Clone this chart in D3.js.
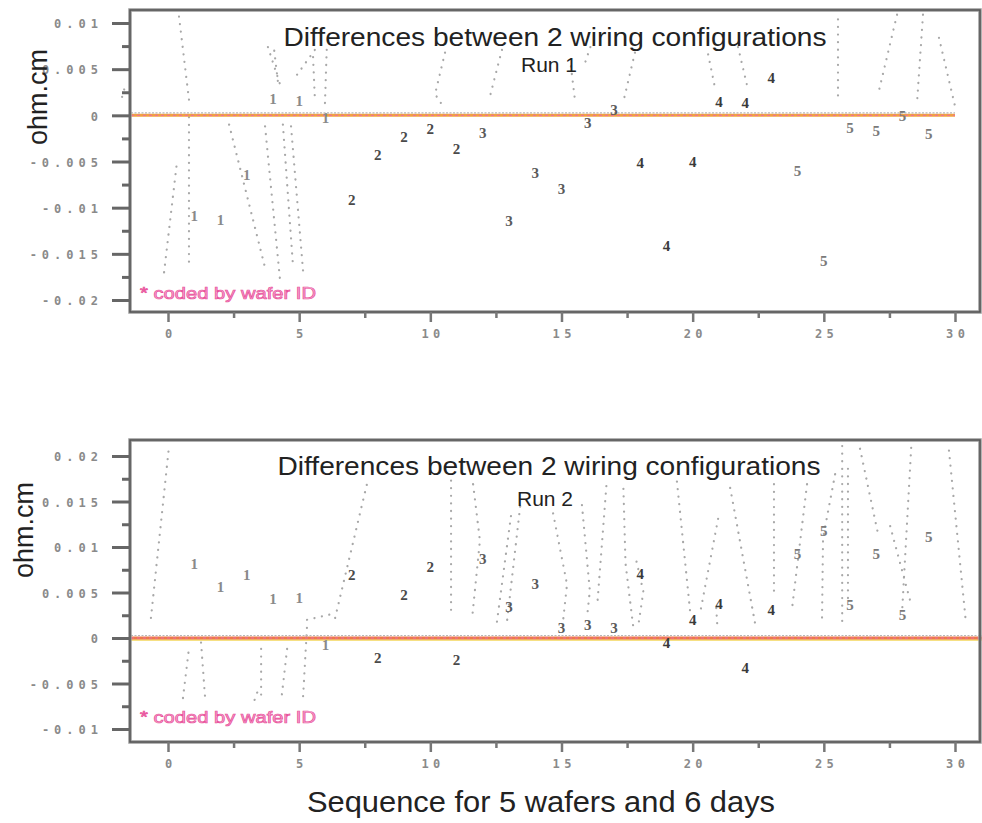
<!DOCTYPE html>
<html>
<head>
<meta charset="utf-8">
<script src="https://cdn.jsdelivr.net/npm/d3@7/dist/d3.min.js"></script>
<style>
  html, body { margin: 0; padding: 0; background: #fff; }
  svg { display: block; }
  .tick text { font-family: "DejaVu Sans Mono", monospace; font-weight: bold; fill: #8a8a8a; }
</style>
</head>
<body>
<svg id="chart" width="982" height="823"></svg>
<script>
// Sequence position of each measurement and the wafer it came from
const sequence = [1,2,3,4,5,6,7,8,9,10,11,12,13,14,15,16,17,18,19,20,21,22,23,24,25,26,27,28,29];
const waferId  = [1,1,1,1,1,1,2,2,2,2,2,3,3,3,3,3,3,4,4,4,4,4,4,5,5,5,5,5,5];

// Differences (ohm.cm) between the two wiring configurations
const run1Diff = [-0.0109,-0.0113,-0.0064,0.0018,0.0016,-0.0002,
                  -0.0091,-0.0042,-0.0023,-0.0014,-0.0036,
                  -0.0019,-0.0114,-0.0062,-0.0079,-0.0008,0.0006,
                  -0.0051,-0.0141,-0.0050,0.0015,0.0014,0.0041,
                  -0.0060,-0.0157,-0.0013,-0.0017,0.0000,-0.0020];
const run2Diff = [0.0082,0.0057,0.0070,0.0043,0.0044,-0.0007,
                  0.0070,-0.0021,0.0048,0.0079,-0.0024,
                  0.0087,0.0035,0.0060,0.0011,0.0015,0.0011,
                  0.0071,-0.0005,0.0020,0.0038,-0.0032,0.0031,
                  0.0093,0.0118,0.0037,0.0093,0.0026,0.0111];

// Dotted trace fragments, [sequence, ohm.cm] pairs
const run1Traces = [
  [[0.42,0.0107],[0.80,0.0017]],
  [[0.80,-0.0002],[0.80,-0.0165]],
  [[-0.15,-0.0170],[0.34,-0.0051]],
  [[2.33,-0.0010],[3.70,-0.0165]],
  [[3.70,-0.0012],[4.27,-0.0178]],
  [[3.81,0.0074],[4.31,0.0030]],
  [[4.05,0.0070],[4.20,0.0034]],
  [[4.38,-0.0010],[4.77,-0.0165]],
  [[4.69,-0.0012],[5.15,-0.0169]],
  [[4.92,0.0044],[5.60,0.0071]],
  [[5.53,0.0063],[5.60,0.0017]],
  [[6.05,0.0071],[5.98,0.0010]],
  [[10.56,0.0068],[10.18,0.0023],[10.48,0.0010]],
  [[12.73,0.0071],[12.24,0.0017]],
  [[15.36,0.0053],[15.52,0.0015]],
  [[16.10,0.0074],[15.90,0.0057]],
  [[17.80,0.0068],[17.35,0.0014]],
  [[20.59,0.0066],[20.85,0.0030]],
  [[21.73,0.0074],[22.11,0.0028]],
  [[25.54,0.0104],[25.54,0.0017]],
  [[27.79,0.0109],[27.07,0.0023]],
  [[28.78,0.0109],[28.56,0.0017]],
  [[29.39,0.0084],[30.00,0.0010]],
  [[-1.75,0.0020],[-1.65,0.0030]]
];
const run2Traces = [
  [[-0.65,0.0022],[0.04,0.0211]],
  [[0.57,-0.0066],[0.80,-0.0011]],
  [[1.26,-0.0005],[1.41,-0.0064]],
  [[3.55,-0.0012],[3.55,-0.0066]],
  [[3.30,-0.0068],[3.40,-0.0060]],
  [[4.54,-0.0012],[4.31,-0.0070]],
  [[5.15,-0.0064],[5.30,0.0013]],
  [[5.30,0.0020],[6.20,0.0026]],
  [[6.37,0.0022],[7.59,0.0170]],
  [[10.79,0.0173],[10.79,0.0027]],
  [[11.63,0.0169],[11.89,0.0107],[11.59,0.0021]],
  [[12.54,0.0018],[13.11,0.0142]],
  [[12.93,0.0020],[13.43,0.0146]],
  [[14.68,0.0137],[15.21,0.0059],[15.06,0.0019]],
  [[15.78,0.0146],[16.08,0.0052],[15.97,0.0022]],
  [[16.71,0.0167],[16.37,0.0039]],
  [[17.36,0.0164],[17.44,0.0082],[17.74,0.0011]],
  [[17.86,0.0084],[18.12,0.0051],[17.94,0.0016]],
  [[19.40,0.0172],[19.90,0.0030]],
  [[20.97,0.0131],[20.28,0.0027]],
  [[21.43,0.0165],[22.38,0.0016]],
  [[20.90,0.0033],[20.94,0.0013]],
  [[23.10,0.0169],[23.10,0.0046]],
  [[24.36,0.0169],[23.79,0.0033]],
  [[25.43,0.0180],[24.97,0.0110],[24.93,0.0019]],
  [[25.70,0.0211],[25.70,0.0015]],
  [[25.92,0.0186],[25.92,0.0041]],
  [[26.38,0.0208],[27.07,0.0114]],
  [[28.33,0.0209],[27.98,0.0027]],
  [[27.53,0.0123],[28.29,0.0041]],
  [[29.77,0.0206],[30.42,0.0016]]
];

// Tick values
const xTicks      = [0,5,10,15,20,25,30];
const xMinorTicks = [2.5,7.5,12.5,17.5,22.5,27.5];
const run1YTicks  = [0.01,0.005,0,-0.005,-0.01,-0.015,-0.02];
const run1YMinor  = [0.0075,0.0025,-0.0025,-0.0075,-0.0125,-0.0175];
const run2YTicks  = [0.02,0.015,0.01,0.005,0,-0.005,-0.01];
const run2YMinor  = [0.0175,0.0125,0.0075,0.0025,-0.0025,-0.0075];

const titleText  = "Differences between 2 wiring configurations";
const yLabelText = "ohm.cm";
const noteText   = "* coded by wafer ID";
const xTitleText = "Sequence for 5 wafers and 6 days";

const waferColor = {1:"#8a8a8a", 2:"#4a4a4a", 3:"#5a5a5a", 4:"#3a3a3a", 5:"#7a7a7a"};

const panels = [
  { run: "Run 1", values: run1Diff, traces: run1Traces, yTicks: run1YTicks, yMinor: run1YMinor,
    yDomain: [-0.02, 0.01], yRange: [300, 23], frame: {top: 10, bottom: 312},
    titleY: 46, runY: 72, titleX: 555, runX: 549, yLabelX: 47, yLabelY: 97, noteY: 299,
    zeroEnd: 30, band: false },
  { run: "Run 2", values: run2Diff, traces: run2Traces, yTicks: run2YTicks, yMinor: run2YMinor,
    yDomain: [-0.01, 0.02], yRange: [729, 456], frame: {top: 440, bottom: 742},
    titleY: 475, runY: 506, titleX: 549, runX: 545, yLabelX: 33, yLabelY: 530, noteY: 723,
    zeroEnd: 31.2, band: true }
];

const svg = d3.select("#chart");
const frameLeft = 130, frameRight = 980;
const x = d3.scaleLinear().domain([0, 30]).range([168, 955]);

const fmtY = v => v === 0 ? "0" : String(+v.toFixed(3));
const sans = "Liberation Sans, Arial, sans-serif";

panels.forEach(p => {
  const y = d3.scaleLinear().domain(p.yDomain).range(p.yRange);
  const g = svg.append("g");

  // Dotted traces
  const line = d3.line().x(d => x(d[0])).y(d => y(d[1]));
  g.append("g").selectAll("path").data(p.traces).join("path")
    .attr("d", line)
    .attr("fill", "none")
    .attr("stroke", "#a8a8a8")
    .attr("stroke-width", 2.2)
    .attr("stroke-linecap", "round")
    .attr("stroke-dasharray", "0.1,7.5");

  // Zero reference line
  const x0 = x.invert(frameLeft + 1);
  if (p.band) {
    g.append("line").attr("x1", x(x0)).attr("x2", x(p.zeroEnd))
      .attr("y1", y(0) + 2).attr("y2", y(0) + 2)
      .attr("stroke", "#f3d65a").attr("stroke-width", 1.6);
  }
  g.append("line").attr("x1", x(x0)).attr("x2", x(p.zeroEnd))
    .attr("y1", y(0)).attr("y2", y(0))
    .attr("stroke", p.band ? "#ec7a4a" : "#f0a044").attr("stroke-width", 3);
  g.append("line").attr("x1", x(x0)).attr("x2", x(p.zeroEnd))
    .attr("y1", y(0)).attr("y2", y(0))
    .attr("stroke", "#f06aa0").attr("stroke-width", 1)
    .attr("stroke-dasharray", "3,3");
  // row of tiny markers sitting on the zero line
  g.append("line").attr("x1", x(x0)).attr("x2", x(p.zeroEnd))
    .attr("y1", y(0) - 2.5).attr("y2", y(0) - 2.5)
    .attr("stroke", "#b8b8b8").attr("stroke-width", 1.2)
    .attr("stroke-dasharray", "2,1.5");

  // Points labelled by wafer ID
  g.append("g").selectAll("text").data(p.values).join("text")
    .attr("x", (d, i) => x(sequence[i]))
    .attr("y", d => y(d))
    .attr("dy", "0.36em")
    .attr("text-anchor", "middle")
    .attr("font-family", "Liberation Serif, serif")
    .attr("font-weight", "bold")
    .attr("font-size", 15)
    .attr("fill", (d, i) => waferColor[waferId[i]])
    .text((d, i) => waferId[i]);

  // Frame
  g.append("rect")
    .attr("x", frameLeft).attr("y", p.frame.top)
    .attr("width", frameRight - frameLeft).attr("height", p.frame.bottom - p.frame.top)
    .attr("fill", "none").attr("stroke", "#9a9a9a").attr("stroke-width", 3.5);
  g.append("rect")
    .attr("x", frameLeft).attr("y", p.frame.top)
    .attr("width", frameRight - frameLeft).attr("height", p.frame.bottom - p.frame.top)
    .attr("fill", "none").attr("stroke", "#555").attr("stroke-width", 1.5);

  // Y axis
  const yAxis = g.append("g").attr("transform", `translate(${frameLeft},0)`)
    .call(d3.axisLeft(y).tickValues(p.yTicks).tickSize(18).tickPadding(9).tickFormat(fmtY));
  const yMinorAxis = g.append("g").attr("transform", `translate(${frameLeft},0)`)
    .call(d3.axisLeft(y).tickValues(p.yMinor).tickSize(8).tickFormat(""));
  [yAxis, yMinorAxis].forEach(a => {
    a.select(".domain").remove();
    a.selectAll(".tick line").attr("stroke", "#666").attr("stroke-width", 3);
  });
  yAxis.selectAll(".tick text")
    .attr("font-size", 12).attr("letter-spacing", "5px")
    .attr("dy", "0.4em");

  // X axis
  const xAxis = g.append("g").attr("transform", `translate(0,${p.frame.bottom})`)
    .call(d3.axisBottom(x).tickValues(xTicks).tickSize(10).tickPadding(7));
  const xMinorAxis = g.append("g").attr("transform", `translate(0,${p.frame.bottom})`)
    .call(d3.axisBottom(x).tickValues(xMinorTicks).tickSize(6).tickFormat(""));
  [xAxis, xMinorAxis].forEach(a => {
    a.select(".domain").remove();
    a.selectAll(".tick line").attr("stroke", "#777").attr("stroke-width", 2.5);
  });
  xAxis.selectAll(".tick text")
    .attr("font-size", 12).attr("letter-spacing", "4.4px")
    .attr("text-anchor", "middle")
    .attr("dx", "2.2px");

  // Titles
  g.append("text").attr("x", p.titleX).attr("y", p.titleY)
    .attr("text-anchor", "middle")
    .attr("font-family", sans)
    .attr("font-size", 26).attr("fill", "#222")
    .attr("textLength", 543).attr("lengthAdjust", "spacingAndGlyphs")
    .text(titleText);
  g.append("text").attr("x", p.runX).attr("y", p.runY)
    .attr("text-anchor", "middle")
    .attr("font-family", sans)
    .attr("font-size", 21).attr("fill", "#222")
    .text(p.run);

  // Y axis label
  g.append("text")
    .attr("transform", `translate(${p.yLabelX},${p.yLabelY}) rotate(-90)`)
    .attr("text-anchor", "middle")
    .attr("font-family", sans)
    .attr("font-size", 27).attr("fill", "#222")
    .text(yLabelText);

  // Note
  g.append("text").attr("x", 140).attr("y", p.noteY)
    .attr("font-family", sans)
    .attr("font-size", 17)
    .attr("textLength", 176).attr("lengthAdjust", "spacingAndGlyphs")
    .attr("fill", "#f7a6cf").attr("stroke", "#e8509a").attr("stroke-width", 0.7)
    .text(noteText);
});

// Shared x axis title
svg.append("text").attr("x", 541).attr("y", 812)
  .attr("text-anchor", "middle")
  .attr("font-family", sans)
  .attr("font-size", 30).attr("fill", "#222")
  .attr("textLength", 468).attr("lengthAdjust", "spacingAndGlyphs")
  .text(xTitleText);
</script>
</body>
</html>
